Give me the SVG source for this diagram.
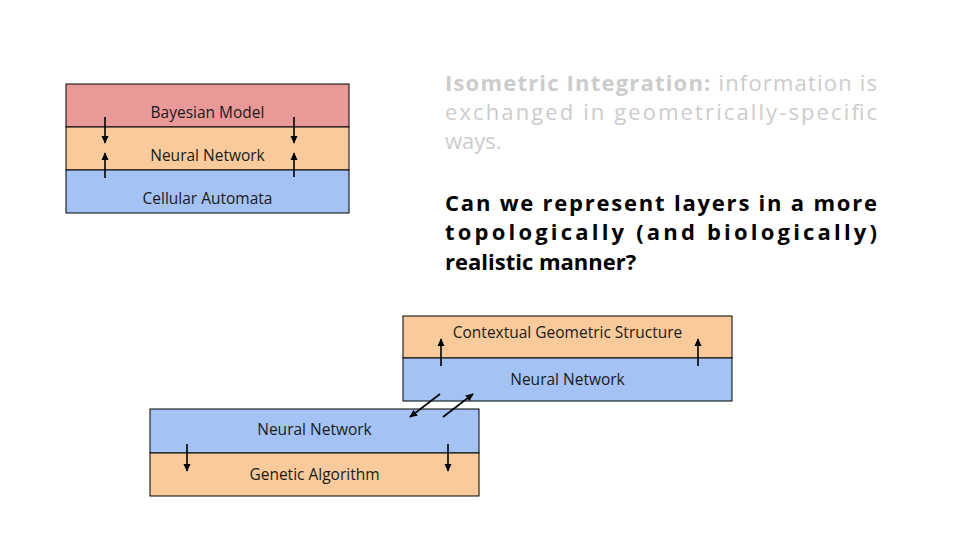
<svg xmlns="http://www.w3.org/2000/svg" width="960" height="540" viewBox="0 0 960 540">
<defs>
<marker id="ah" viewBox="0 0 10 10" refX="9" refY="5" markerWidth="5" markerHeight="5" orient="auto"><path d="M0,0.5 L10,5 L0,9.5 z" fill="#000"/></marker>
<style>
.red{fill:#ea9999;stroke:#000;stroke-width:1}
.org{fill:#f9cb9c;stroke:#000;stroke-width:1}
.blu{fill:#a4c2f4;stroke:#000;stroke-width:1}
.lbl{font-family:"Open Sans",Lato,sans-serif;font-size:15.5px;fill:#1a1a1a;text-anchor:middle}
.arr{stroke:#000;stroke-width:1.6;fill:none;marker-end:url(#ah)}
.gray{font-family:"Open Sans",Lato,sans-serif;font-size:22px;fill:#cccccc}
.q{font-family:"Open Sans",Lato,sans-serif;font-size:22px;fill:#000;font-weight:bold}
</style>
</defs>
<rect width="960" height="540" fill="#fff"/>
<g id="bayesian"><rect class="red" x="66" y="84" width="283" height="43"/><text class="lbl" x="207.5" y="118">Bayesian Model</text></g>
<g id="nn1"><rect class="org" x="66" y="127" width="283" height="43"/><text class="lbl" x="207.5" y="161">Neural Network</text></g>
<g id="ca"><rect class="blu" x="66" y="170" width="283" height="43"/><text class="lbl" x="207.5" y="204">Cellular Automata</text></g>
<g id="cgs"><rect class="org" x="403" y="316" width="329" height="42"/><text class="lbl" x="567.5" y="338">Contextual Geometric Structure</text></g>
<g id="nn2"><rect class="blu" x="403" y="358" width="329" height="43"/><text class="lbl" x="567.5" y="385">Neural Network</text></g>
<g id="nn3"><rect class="blu" x="150" y="409" width="329" height="44"/><text class="lbl" x="314.5" y="435">Neural Network</text></g>
<g id="ga"><rect class="org" x="150" y="453" width="329" height="43"/><text class="lbl" x="314.5" y="480">Genetic Algorithm</text></g>
<g id="connectors">
<line class="arr" x1="105" y1="117" x2="105" y2="143"/>
<line class="arr" x1="294" y1="117" x2="294" y2="143"/>
<line class="arr" x1="105" y1="178" x2="105" y2="153"/>
<line class="arr" x1="294" y1="177" x2="294" y2="153"/>
<line class="arr" x1="441" y1="366" x2="441" y2="339"/>
<line class="arr" x1="698" y1="366" x2="698" y2="339"/>
<line class="arr" x1="187" y1="444" x2="187" y2="471"/>
<line class="arr" x1="448" y1="444" x2="448" y2="471"/>
<line class="arr" x1="440" y1="394" x2="410" y2="417"/>
<line class="arr" x1="443" y1="417" x2="473" y2="394"/>
</g>
<g id="text">
<text class="gray" x="445" y="91" textLength="432" lengthAdjust="spacing"><tspan font-weight="bold">Isometric Integration:</tspan> information is</text>
<text class="gray" x="445" y="120" textLength="432" lengthAdjust="spacing">exchanged in geometrically-specific</text>
<text class="gray" x="445" y="149">ways.</text>
<text class="q" x="445" y="211" textLength="432" lengthAdjust="spacing">Can we represent layers in a more</text>
<text class="q" x="445" y="240" textLength="432" lengthAdjust="spacing">topologically (and biologically)</text>
<text class="q" x="445" y="270">realistic manner?</text>
</g>
</svg>
